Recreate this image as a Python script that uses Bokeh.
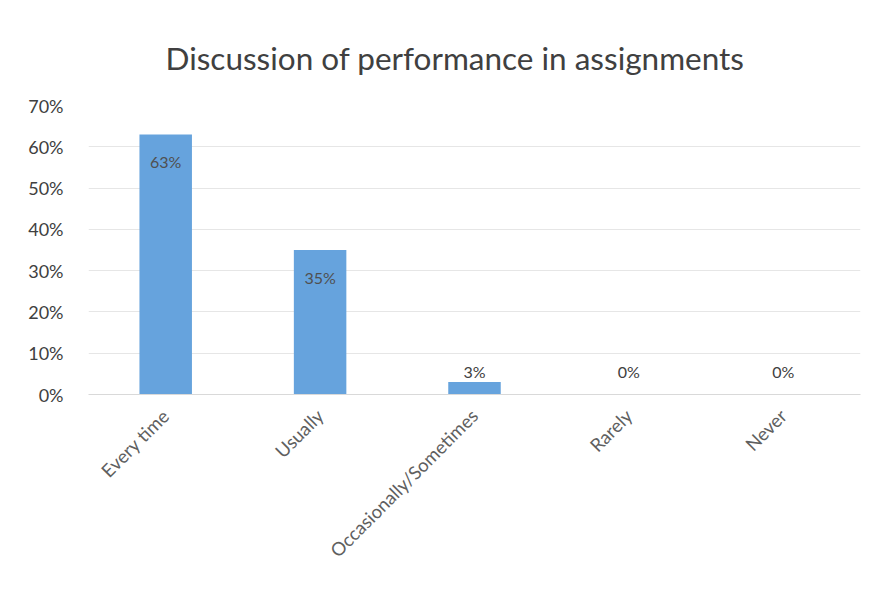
import math
from bokeh.plotting import figure
from bokeh.models import ColumnDataSource, LabelSet, NumeralTickFormatter, FixedTicker, Range1d, Title
from bokeh.core.properties import value
from bokeh.embed import file_html
from bokeh.resources import INLINE

categories = ["Every time", "Usually", "Occasionally/Sometimes", "Rarely", "Never"]
values = [0.63, 0.35, 0.03, 0.0, 0.0]
value_labels = ["63%", "35%", "3%", "0%", "0%"]
y_ticks = [0.0, 0.1, 0.2, 0.3, 0.4, 0.5, 0.6, 0.7]

FONT = "Lato"

inside = [v >= 0.1 for v in values]
src_in = ColumnDataSource(dict(
    x=[c for c, i in zip(categories, inside) if i],
    y=[v for v, i in zip(values, inside) if i],
    t=[t for t, i in zip(value_labels, inside) if i],
))
src_out = ColumnDataSource(dict(
    x=[c for c, i in zip(categories, inside) if not i],
    y=[0.0 for i in inside if not i],
    t=[t for t, i in zip(value_labels, inside) if not i],
))

p = figure(x_range=categories, y_range=Range1d(0, 0.7), width=865, height=576,
           output_backend="svg", toolbar_location=None,
           min_border_left=88, min_border_right=5, min_border_top=105, min_border_bottom=182)

p.title = Title(text="Discussion of performance in assignments", align="left", offset=77,
                text_font=FONT, text_font_size="31.5px", text_font_style="normal",
                text_color="#404040", standoff=58)

p.vbar(x=categories, top=values, width=0.34, color="#66a3dd", line_color=None)

p.add_layout(LabelSet(x="x", y="y", text="t", source=src_in, y_offset=-27,
                      text_align="center", text_baseline="middle",
                      text_font=value(FONT), text_font_size=value("16px"), text_color="#505050"))
p.add_layout(LabelSet(x="x", y="y", text="t", source=src_out, y_offset=23,
                      text_align="center", text_baseline="middle",
                      text_font=value(FONT), text_font_size=value("16px"), text_color="#404040"))

p.yaxis.ticker = FixedTicker(ticks=y_ticks)
p.yaxis.formatter = NumeralTickFormatter(format="0%")
p.yaxis.axis_line_color = None
p.yaxis.major_tick_line_color = None
p.yaxis.minor_tick_line_color = None
p.yaxis.major_label_standoff = 19
p.yaxis.major_label_text_font = FONT
p.yaxis.major_label_text_font_size = "18px"
p.yaxis.major_label_text_color = "#404040"

p.xaxis.axis_line_color = "#d9d9d9"
p.xaxis.major_tick_line_color = None
p.xaxis.major_label_orientation = math.pi / 4
p.xaxis.major_label_standoff = 12
p.xaxis.major_label_text_font = FONT
p.xaxis.major_label_text_font_size = "18.5px"
p.xaxis.major_label_text_color = "#5f5f5f"

p.xgrid.grid_line_color = None
p.ygrid.grid_line_color = "#e6e6e6"
p.outline_line_color = None
p.border_fill_color = "white"
p.background_fill_color = "white"

open("out.html", "w").write(file_html(p, INLINE))
